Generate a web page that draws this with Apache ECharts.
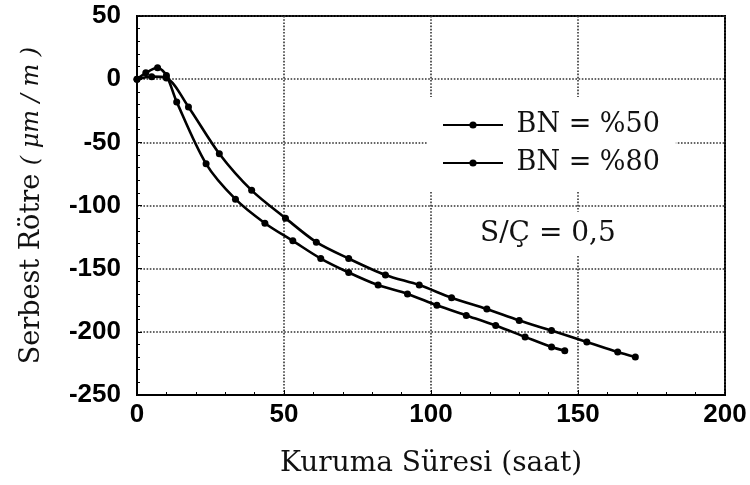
<!DOCTYPE html>
<html>
<head>
<meta charset="utf-8">
<script src="https://cdn.jsdelivr.net/npm/echarts@6/dist/echarts.min.js"></script>
<style>
  html, body { margin: 0; padding: 0; background: #fff; }
  #chart { width: 750px; height: 485px; }
</style>
</head>
<body>
<div id="chart"></div>
<script>
// drying time (saat) and free shrinkage values
var timeBN50 = [0, 3, 7, 10, 13.5, 23.5, 33.5, 43.5, 53, 62.5, 72, 82, 92, 102, 112, 122, 132, 141, 145.5]
var shrinkBN50 = [0, 5, 9, 3, -18, -67, -95, -114, -128, -142, -153, -163, -170, -179, -187, -195, -204, -212, -215]

var timeBN80 = [0, 5, 10, 17.5, 28, 39, 50.5, 61, 72, 84.5, 96, 107, 119, 130, 141, 153, 163.5, 169.5]
var shrinkBN80 = [0, 2, 1, -22, -59, -88, -110, -129, -142, -155, -163, -173, -182, -191, -199, -208, -216, -220]

var seriesNames = ['BN = %50', 'BN = %80']
var noteText = 'S/Ç = 0,5'

function pairs(xs, ys) {
  return xs.map(function (x, i) { return [x, ys[i]] })
}

var serif = 'DejaVu Serif'
var chart = echarts.init(document.getElementById('chart'))

var lineSeries = function (name, data) {
  return {
    name: name,
    type: 'line',
    smooth: 0.3,
    symbol: 'circle',
    symbolSize: 7,
    itemStyle: { color: '#000' },
    lineStyle: { color: '#000', width: 2.6 },
    data: data
  }
}

var axisCommon = {
  axisLine: { show: true, onZero: false, lineStyle: { color: '#000', width: 2 } },
  axisTick: { show: true, inside: true, length: 5, lineStyle: { color: '#000' } },
  minorTick: { show: true, splitNumber: 5, length: 3, lineStyle: { color: '#000' } },
  splitLine: { show: true, lineStyle: { type: 'dotted', color: '#333', width: 1.6 } }
}

var option = {
  animation: false,
  backgroundColor: '#fff',
  grid: {
    left: 137,
    right: 25,
    top: 16,
    bottom: 90,
    show: true,
    borderColor: '#000',
    borderWidth: 2
  },
  legend: {
    data: seriesNames,
    orient: 'vertical',
    left: 428,
    top: 97,
    padding: [13, 16, 13, 14],
    itemGap: 8,
    itemWidth: 60,
    itemHeight: 9,
    backgroundColor: '#fff',
    formatter: function (n) { return ' ' + n },
    textStyle: {
      fontFamily: serif,
      fontSize: 27,
      lineHeight: 30,
      color: '#111'
    }
  },
  xAxis: Object.assign({
    type: 'value',
    min: 0,
    max: 200,
    interval: 50,
    name: 'Kuruma Süresi (saat)',
    nameLocation: 'middle',
    nameGap: 55,
    nameTextStyle: { fontFamily: serif, fontSize: 28, color: '#111' },
    axisLabel: {
      fontFamily: 'Liberation Sans',
      fontWeight: 'bold',
      fontSize: 26,
      color: '#000',
      margin: 7
    }
  }, axisCommon),
  yAxis: Object.assign({
    type: 'value',
    min: -250,
    max: 50,
    interval: 50,
    name: '{a|Serbest Rötre }{b|( μm / m )}',
    nameLocation: 'middle',
    nameRotate: 90,
    nameGap: 92,
    nameTextStyle: {
      color: '#111',
      rich: {
        a: { fontFamily: serif, fontSize: 27, color: '#111' },
        b: { fontFamily: serif, fontSize: 24, fontStyle: 'italic', color: '#111' }
      }
    },
    axisLabel: {
      fontFamily: 'Liberation Sans',
      fontWeight: 'bold',
      fontSize: 26,
      color: '#000',
      margin: 16
    }
  }, axisCommon),
  graphic: [
    {
      type: 'text',
      left: 470,
      top: 212,
      z: 100,
      style: {
        text: noteText,
        fontFamily: serif,
        fontSize: 28,
        fill: '#111',
        backgroundColor: '#fff',
        padding: [8, 10]
      }
    }
  ],
  series: [
    lineSeries(seriesNames[0], pairs(timeBN50, shrinkBN50)),
    lineSeries(seriesNames[1], pairs(timeBN80, shrinkBN80))
  ]
}

chart.setOption(option)
</script>
</body>
</html>
